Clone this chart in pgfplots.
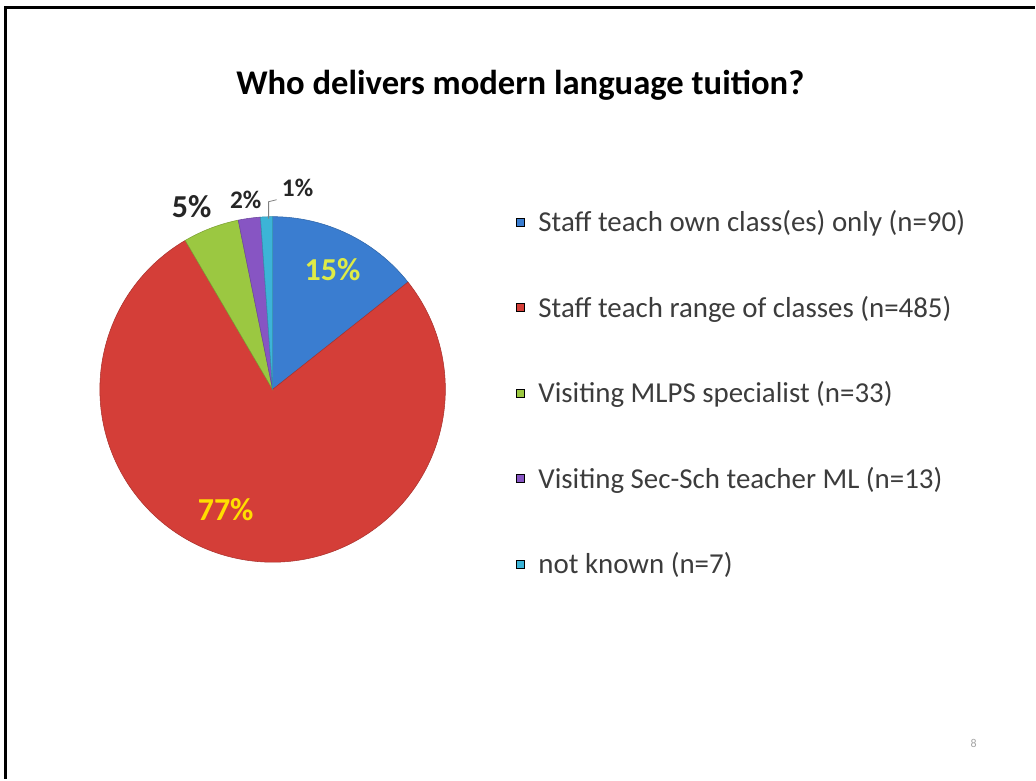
\documentclass[border=0pt]{standalone}
\usepackage{fontspec}
\setmainfont{Carlito}
\usepackage{pgfplots}
\usepackage{pgfplotstable}
\pgfplotsset{compat=1.18}

\definecolor{cBlue}{RGB}{58,125,208}
\definecolor{cRed}{RGB}{212,62,56}
\definecolor{cGreen}{RGB}{155,200,65}
\definecolor{cPurple}{RGB}{135,85,195}
\definecolor{cCyan}{RGB}{60,180,215}
\definecolor{lblYellow}{RGB}{255,222,0}
\definecolor{lblLime}{RGB}{222,235,70}
\definecolor{txt}{RGB}{60,60,60}

% counts per category, clockwise from 12 o'clock
\pgfplotstableread{
n
90
485
33
13
7
}\piedata

\begin{document}
\begin{tikzpicture}
% read counts and turn them into wedge angles
\pgfplotstablegetelem{0}{n}\of\piedata \let\nA\pgfplotsretval
\pgfplotstablegetelem{1}{n}\of\piedata \let\nB\pgfplotsretval
\pgfplotstablegetelem{2}{n}\of\piedata \let\nC\pgfplotsretval
\pgfplotstablegetelem{3}{n}\of\piedata \let\nD\pgfplotsretval
\pgfplotstablegetelem{4}{n}\of\piedata \let\nE\pgfplotsretval
\pgfmathsetmacro\tot{\nA+\nB+\nC+\nD+\nE}
\pgfmathsetmacro\aA{90}
\pgfmathsetmacro\aB{\aA-360*(\nA/\tot)}
\pgfmathsetmacro\aC{\aB-360*(\nB/\tot)}
\pgfmathsetmacro\aD{\aC-360*(\nC/\tot)}
\pgfmathsetmacro\aE{\aD-360*(\nD/\tot)}
\pgfmathsetmacro\aF{\aE-360*(\nE/\tot)}
\def\R{129.75pt}% 173 units
\begin{axis}[
  width=777pt, height=585pt, scale only axis,
  xmin=0, xmax=1036, ymin=0, ymax=780,
  hide axis, clip=false,
  legend style={at={(axis cs:516,572)}, anchor=north west, draw=none, fill=none,
    inner sep=0pt, row sep=42.8pt, text=txt,
    font=\fontsize{21.7}{25}\selectfont},
  legend cell align=left,
  legend image code/.code={\fill[#1] (0pt,-3pt) rectangle (6pt,3pt); \path[draw=none,fill=none] (0pt,0pt) (15pt,0pt);},
]
% keep the whole slide in the page
\path (axis cs:0,0) rectangle (axis cs:1036,780);

\addlegendimage{fill=cBlue}
\addlegendentry{Staff teach own class(es) only (n=90)}
\addlegendimage{fill=cRed}
\addlegendentry{Staff teach range of classes (n=485)}
\addlegendimage{fill=cGreen}
\addlegendentry{Visiting MLPS specialist (n=33)}
\addlegendimage{fill=cPurple}
\addlegendentry{Visiting Sec-Sch teacher ML (n=13)}
\addlegendimage{fill=cCyan}
\addlegendentry{not known (n=7)}

\filldraw[fill=cBlue, draw=cBlue!80!black, line width=0.4pt] (axis cs:273,390) -- ++(\aA:\R) arc[start angle=\aA, end angle=\aB, radius=\R] -- cycle;
\filldraw[fill=cRed, draw=cRed!80!black, line width=0.4pt] (axis cs:273,390) -- ++(\aB:\R) arc[start angle=\aB, end angle=\aC, radius=\R] -- cycle;
\filldraw[fill=cGreen, draw=cGreen!80!black, line width=0.4pt] (axis cs:273,390) -- ++(\aC:\R) arc[start angle=\aC, end angle=\aD, radius=\R] -- cycle;
\filldraw[fill=cPurple, draw=cPurple!80!black, line width=0.4pt] (axis cs:273,390) -- ++(\aD:\R) arc[start angle=\aD, end angle=\aE, radius=\R] -- cycle;
\filldraw[fill=cCyan, draw=cCyan!80!black, line width=0.4pt] (axis cs:273,390) -- ++(\aE:\R) arc[start angle=\aE, end angle=\aF, radius=\R] -- cycle;

% data labels
\node[font=\fontsize{24}{24}\selectfont\bfseries, text=lblLime] at (axis cs:333,510) {15\%};
\node[font=\fontsize{24}{24}\selectfont\bfseries, text=lblYellow] at (axis cs:226,270) {77\%};
\node[font=\fontsize{24}{24}\selectfont\bfseries, text=black!85] at (axis cs:192,573) {5\%};
\node[font=\fontsize{19}{19}\selectfont\bfseries, text=black!85] at (axis cs:246,580) {2\%};
\node[font=\fontsize{19}{19}\selectfont\bfseries, text=black!85] at (axis cs:298,592) {1\%};
\draw[gray, line width=0.6pt] (axis cs:269,561) -- (axis cs:269,578) -- (axis cs:277,580);

% title, slide frame, page number
\node[font=\fontsize{26}{26}\selectfont\bfseries] at (axis cs:521,695) {Who delivers modern language tuition?};
\draw[line width=2.25pt] (axis cs:6,0) -- (axis cs:6,772) -- (axis cs:1036,772);
\node[font=\fontsize{9}{9}\selectfont, text=gray!70] at (axis cs:975,35) {8};
\end{axis}
\end{tikzpicture}
\end{document}
